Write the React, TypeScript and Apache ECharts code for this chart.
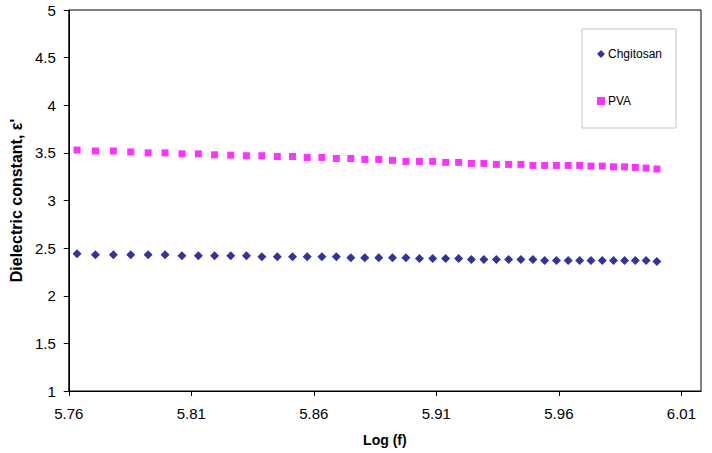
import React, { useEffect, useRef } from "react";
import * as echarts from "echarts";

// Log (f) of each measurement (f = 580 kHz ... 1 MHz)
const logF = [
  5.7634, 5.7709, 5.7782, 5.7853, 5.7924, 5.7993, 5.8062, 5.8129, 5.8195, 5.8261,
  5.8325, 5.8388, 5.8451, 5.8513, 5.8573, 5.8633, 5.8692, 5.8751, 5.8808, 5.8865,
  5.8921, 5.8976, 5.9031, 5.9085, 5.9138, 5.9191, 5.9243, 5.9294, 5.9345, 5.9395,
  5.9445, 5.9494, 5.9542, 5.959, 5.9638, 5.9685, 5.9731, 5.9777, 5.9823, 5.9868,
  5.9912, 5.9956, 6.0,
];

const chitosan = [
  2.44, 2.43, 2.43, 2.43, 2.43, 2.43, 2.42, 2.42, 2.42, 2.42,
  2.42, 2.41, 2.41, 2.41, 2.41, 2.41, 2.41, 2.4, 2.4, 2.4,
  2.4, 2.4, 2.39, 2.39, 2.39, 2.39, 2.38, 2.38, 2.38, 2.38,
  2.38, 2.38, 2.37, 2.37, 2.37, 2.37, 2.37, 2.37, 2.37, 2.37,
  2.37, 2.37, 2.36,
];

const pva = [
  3.53, 3.52, 3.52, 3.51, 3.5, 3.5, 3.49, 3.49, 3.48, 3.476,
  3.47, 3.47, 3.462, 3.462, 3.452, 3.452, 3.441, 3.441, 3.431, 3.431,
  3.421, 3.41, 3.41, 3.41, 3.4, 3.4, 3.389, 3.389, 3.379, 3.379,
  3.379, 3.368, 3.368, 3.368, 3.368, 3.368, 3.361, 3.361, 3.354, 3.354,
  3.347, 3.34, 3.33,
];

const xTicks = [5.76, 5.81, 5.86, 5.91, 5.96, 6.01];
const yTicks = [1, 1.5, 2, 2.5, 3, 3.5, 4, 4.5, 5];
const seriesNames = ["Chgitosan", "PVA"];

const FONT = "'Liberation Sans', Arial, sans-serif";

export default function App() {
  const ref = useRef<HTMLDivElement>(null);

  useEffect(() => {
    if (!ref.current) return;
    const chart = echarts.init(ref.current, undefined, { renderer: "svg" });
    chart.setOption({
      animation: false,
      backgroundColor: "#ffffff",
      textStyle: { fontFamily: FONT, color: "#000" },
      grid: {
        left: 68,
        right: 11,
        top: 10,
        bottom: 62,
        show: true,
        borderColor: "#000",
        borderWidth: 1,
        backgroundColor: "transparent",
      },
      legend: {
        orient: "vertical",
        left: 582,
        top: 29,
        padding: [19, 14, 21, 15],
        itemGap: 35,
        itemWidth: 8,
        itemHeight: 8,
        borderColor: "#c4c4dc",
        borderWidth: 1,
        borderRadius: 0,
        backgroundColor: "#fff",
        textStyle: { fontFamily: FONT, fontSize: 12, color: "#000", padding: [0, 0, 0, -2] },
        data: [
          { name: seriesNames[0], icon: "diamond" },
          { name: seriesNames[1], icon: "rect" },
        ],
      },
      xAxis: {
        type: "value",
        min: 5.76,
        max: 6.018,
        name: "Log (f)",
        nameLocation: "middle",
        nameGap: 42,
        nameTextStyle: { fontFamily: FONT, fontSize: 14, fontWeight: "bold", color: "#000" },
        axisLine: { show: true, lineStyle: { color: "#000", width: 1 } },
        axisTick: { show: true, length: 5, lineStyle: { color: "#000" }, customValues: xTicks },
        axisLabel: {
          customValues: xTicks,
          formatter: (v: number) => v.toFixed(2),
          fontFamily: FONT,
          fontSize: 15,
          color: "#000",
          margin: 15,
        },
        splitLine: { show: false },
      },
      yAxis: {
        type: "value",
        min: 1,
        max: 5,
        interval: 0.5,
        name: "Dielectric constant, ε'",
        nameLocation: "middle",
        nameGap: 44,
        nameTextStyle: { fontFamily: FONT, fontSize: 16, fontWeight: "bold", color: "#000" },
        axisLine: { show: true, lineStyle: { color: "#000", width: 1 } },
        axisTick: { show: true, length: 5, lineStyle: { color: "#000" }, customValues: yTicks },
        axisLabel: {
          customValues: yTicks,
          formatter: (v: number) => String(v),
          fontFamily: FONT,
          fontSize: 15,
          color: "#000",
          margin: 13,
        },
        splitLine: { show: false },
      },
      series: [
        {
          name: seriesNames[0],
          type: "scatter",
          symbol: "diamond",
          symbolSize: 9,
          itemStyle: { color: "#000080" },
          data: logF.map((x, i) => [x, chitosan[i]]),
        },
        {
          name: seriesNames[1],
          type: "scatter",
          symbol: "rect",
          symbolSize: 7,
          itemStyle: { color: "#ff00ff" },
          data: logF.map((x, i) => [x, pva[i]]),
        },
      ],
    });
    return () => chart.dispose();
  }, []);

  return (
    <div
      ref={ref}
      style={{ position: "fixed", left: 0, top: 0, width: 712, height: 453, background: "#fff" }}
    />
  );
}
